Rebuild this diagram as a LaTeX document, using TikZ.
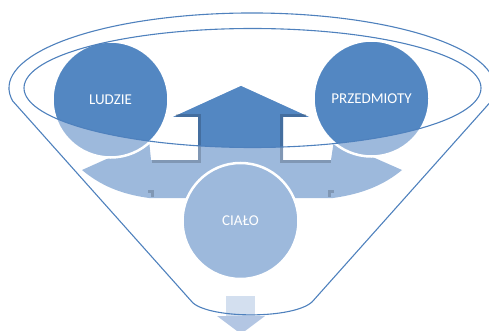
\documentclass[tikz,border=0pt]{standalone}
\usepackage{fontspec}
\setmainfont{Carlito}
\usepackage{xcolor}
\definecolor{accentblue}{HTML}{5387C2}
\definecolor{paleblue}{HTML}{9DB9DC}
\definecolor{rimblue}{HTML}{4F81BD}
\definecolor{dropblue}{HTML}{D3DFEF}
\definecolor{dropdeep}{HTML}{B3C6E3}
\tikzset{
  rimline/.style={draw=rimblue, line width=1.1},
  darkrim/.style={path picture={\fill[accentblue] (rim) ellipse [x radius=228.5, y radius=59.5];}},
  ball/.style={circle, minimum size=116, inner sep=0, fill=paleblue, draw=white,
    line width=2.5, text=white, darkrim, font=\fontsize{15}{18}\selectfont},
  notchshade/.style={draw=black, opacity=.18, line width=3},
}

\begin{document}
\begin{tikzpicture}[x=1pt, y=-1pt]
      \useasboundingbox (0,0) rectangle (489,331);
      \coordinate (rim) at (252.5,88);
      \coordinate (mouth west) at (12.7,101);
      \coordinate (spout west) at (193,303);
      \coordinate (spout east) at (312,302);

      % cross of arrows behind the circles
      \path[fill=paleblue, darkrim] (82,170) -- (149,140) -- (151,160) -- (198,160)
        -- (198,117) -- (173,117) -- (241,86) -- (309,117) -- (283,117) -- (283,160)
        -- (331,160) -- (334,140) -- (402,170) .. controls (384,185) and (362,194) .. (333,198)
        -- (149,198) .. controls (120,194) and (100,185) .. (82,170) -- cycle;
      \draw[notchshade] (176,115.5) -- (199.5,115.5) -- (199.5,161.5) -- (151.5,161.5);
      \draw[notchshade] (306,115.5) -- (281.5,115.5) -- (281.5,161.5) -- (330.5,161.5);
      \draw[notchshade] (148,191.5) -- (152.5,191.5) -- (152.5,197);
      \draw[notchshade] (334,191.5) -- (329.5,191.5) -- (329.5,197);

      \node[ball] (ludzie) at (110.5,99.5) {LUDZIE};
      \node[ball] (przedmioty) at (371.5,98.5) {PRZEDMIOTY};
      \node[ball] (cialo) at (240.5,221) {CIAŁO};

      % arrow out of the funnel
      \fill[dropblue] (226,296) rectangle (255,316);
      \fill[dropdeep] (217,316) -- (265,316) -- (241,334) -- cycle;

      % funnel
      \draw[rimline] (mouth west) arc [start angle=170, end angle=370, x radius=243, y radius=75]
        -- (spout east) .. controls (293,319) and (212,319) .. (spout west) -- cycle;
      \draw[rimline] (rim) ellipse [x radius=228.5, y radius=59.5];
\end{tikzpicture}
\end{document}
